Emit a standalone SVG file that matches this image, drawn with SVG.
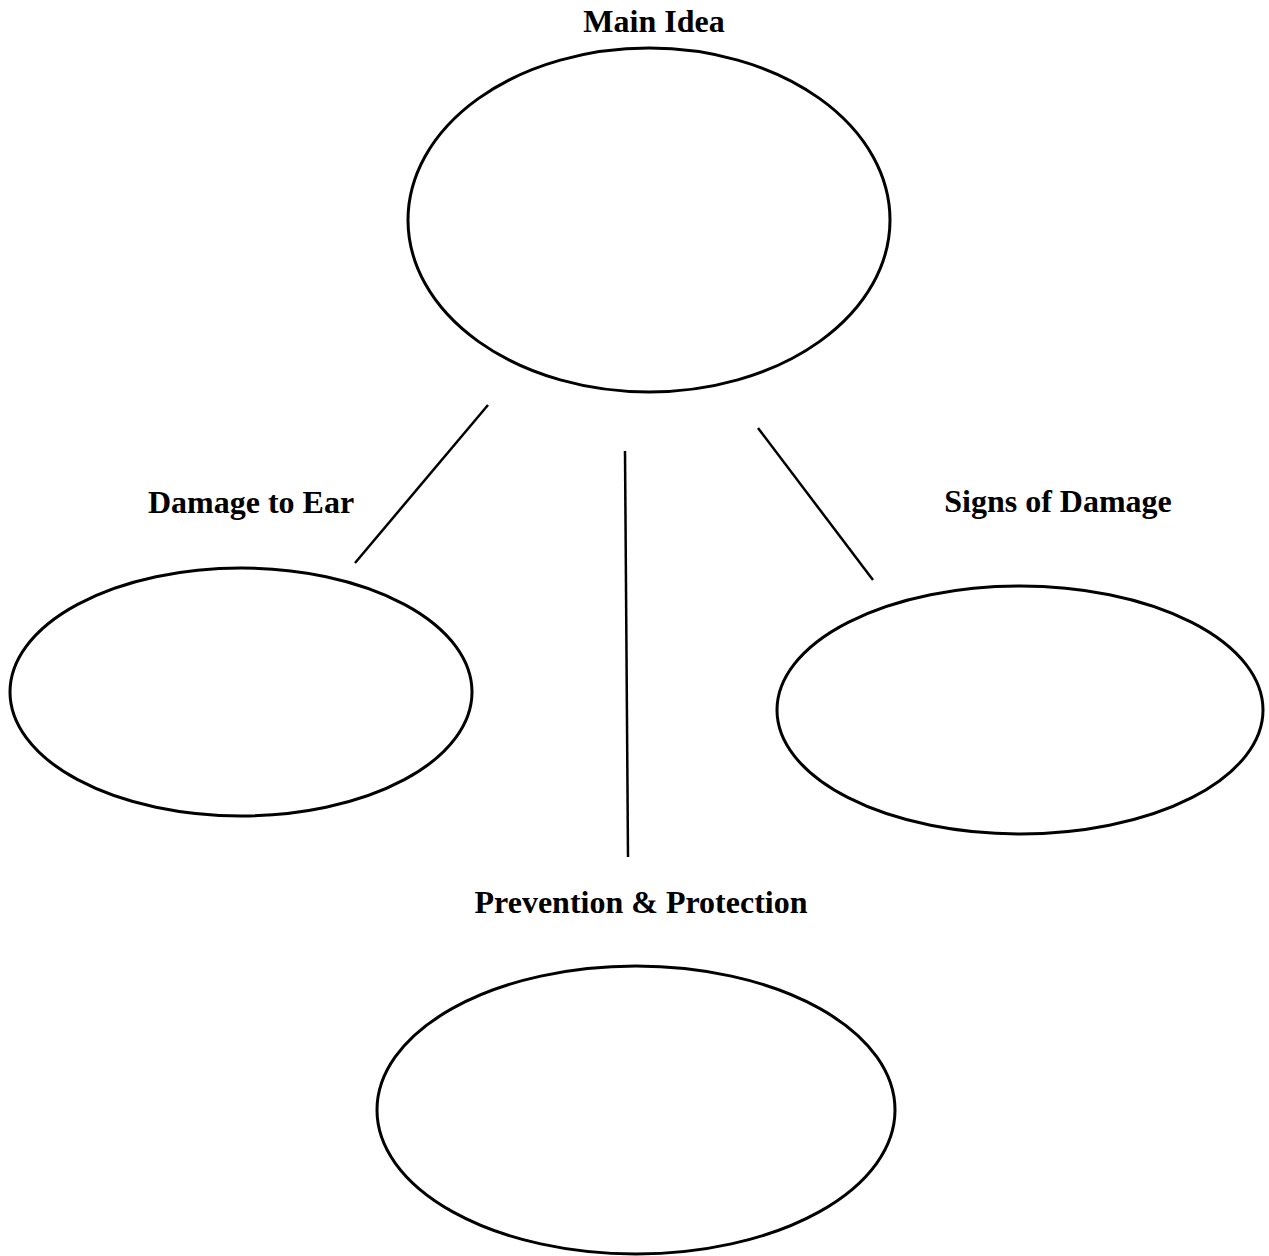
<svg xmlns="http://www.w3.org/2000/svg" width="1269" height="1256" viewBox="0 0 1269 1256">
<style>
.n{fill:none;stroke:#000;stroke-width:3}
.c{stroke:#000;stroke-width:2.5;fill:none}
.t{font-family:"Liberation Serif",serif;font-weight:bold;font-size:32px;text-anchor:middle;fill:#000}
</style>
<rect width="1269" height="1256" fill="#fff"/>
<g id="connectors">
<line class="c" x1="488" y1="405" x2="355" y2="563"/>
<line class="c" x1="625" y1="451" x2="628" y2="857"/>
<line class="c" x1="758" y1="428" x2="873" y2="580"/>
</g>
<g id="main">
<text class="t" x="654" y="32">Main Idea</text>
<ellipse class="n" cx="649" cy="220" rx="241" ry="172"/>
</g>
<g id="damage">
<text class="t" x="251" y="513">Damage to Ear</text>
<ellipse class="n" cx="241" cy="692" rx="231" ry="124"/>
</g>
<g id="signs">
<text class="t" x="1058" y="512">Signs of Damage</text>
<ellipse class="n" cx="1020" cy="710" rx="243" ry="124"/>
</g>
<g id="prevention">
<text class="t" x="641" y="913">Prevention &amp; Protection</text>
<ellipse class="n" cx="636" cy="1110" rx="259" ry="144"/>
</g>
</svg>
